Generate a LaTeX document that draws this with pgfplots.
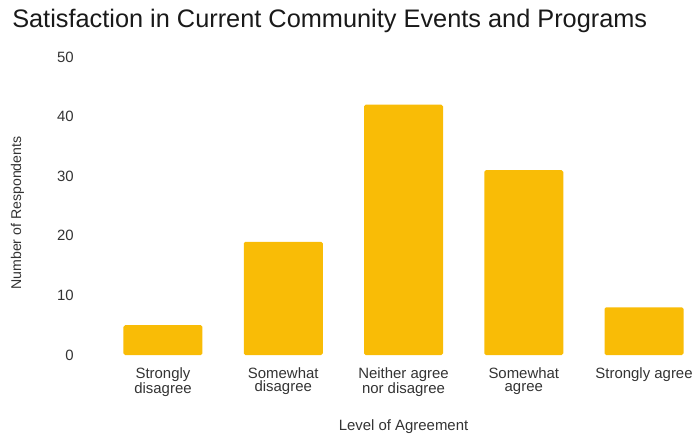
\documentclass[border=0pt]{standalone}
\usepackage{pgfplots}
\pgfplotsset{compat=1.18}
\usepackage{fontspec}
\setmainfont{Liberation Sans}
\definecolor{baryellow}{HTML}{F9BC06}
\definecolor{txt}{HTML}{333333}
\begin{document}
\begin{tikzpicture}
\useasboundingbox (0,0) rectangle (520.5pt,327pt);
\node[anchor=base west, inner sep=0pt, font=\fontsize{19}{22}\selectfont, text=black!90] at (9pt,306pt) {Satisfaction in Current Community Events and Programs};
\begin{axis}[
  at={(77.14pt,60.75pt)}, anchor=south west,
  scale only axis, width=451pt, height=223.5pt,
  xmin=-0.5, xmax=4.5, ymin=0, ymax=50,
  axis line style={draw=none}, tick style={draw=none},
  major tick length=0pt,
  /pgf/number format/assume math mode=true,
  ytick={0,10,20,30,40,50},
  xtick={0,1,2,3,4},
  xticklabels={{Strongly\\disagree},{Somewhat\\disagree},{Neither agree\\nor disagree},{Somewhat\\agree},{Strongly agree}},
  xticklabel style={align=center, anchor=north, inner sep=0pt, yshift=-9pt, font=\fontsize{11.2}{10}\selectfont, text=txt},
  yticklabel style={anchor=east, inner sep=0pt, xshift=-21.6pt, font=\fontsize{11.2}{13}\selectfont, text=txt},
  xlabel={Level of Agreement},
  xlabel style={at={(axis description cs:0.5,0)}, anchor=north, inner sep=0pt, yshift=-48pt, font=\fontsize{11.2}{13}\selectfont, text=txt},
  ylabel={Number of Respondents},
  ylabel style={at={(axis description cs:-0.142,0.4765)}, anchor=center, inner sep=0pt, font=\fontsize{10.6}{13}\selectfont, text=txt},
  ybar, bar width=59.25pt,
]
\addplot[fill=baryellow, draw=none, rounded corners=1.2pt] coordinates {(0,5) (1,19) (2,42) (3,31) (4,8)};
\end{axis}
\end{tikzpicture}
\end{document}
